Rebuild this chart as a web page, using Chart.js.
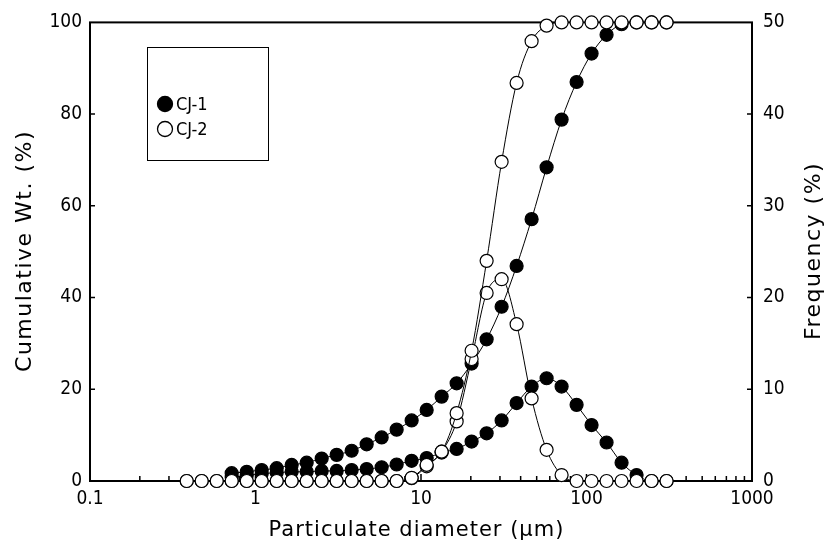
<!DOCTYPE html>
<html>
<head>
<meta charset="utf-8">
<script src="https://cdn.jsdelivr.net/npm/chart.js@4.4.1/dist/chart.umd.min.js"></script>
<style>
html, body { margin: 0; padding: 0; background: #fff; }
</style>
</head>
<body>
<canvas id="psd" width="828" height="552"></canvas>
<script>
// size classes (um)
const diameters = [0.384, 0.473, 0.583, 0.718, 0.885, 1.09, 1.343, 1.654, 2.038, 2.511,
    3.093, 3.811, 4.695, 5.784, 7.126, 8.779, 10.82, 13.33, 16.42, 20.22,
    24.92, 30.7, 37.82, 46.59, 57.4, 70.72, 87.13, 107.3, 132.2, 162.9,
    200.7, 247.3, 304.6];

// cumulative wt. (%) - left axis
const cj1Cumulative = [null, null, null, 1.7, 2.0, 2.4, 2.8, 3.5, 4.0, 4.9,
    5.7, 6.6, 8.0, 9.5, 11.2, 13.2, 15.5, 18.4, 21.3, 25.6,
    30.9, 38.0, 46.9, 57.1, 68.4, 78.8, 87.0, 93.2, 97.3, 99.6,
    100, 100, 100];
const cj2Cumulative = [0, 0, 0, 0, 0, 0, 0, 0, 0, 0,
    0, 0, 0, 0, 0, 0.7, 3.5, 6.4, 14.8, 28.4,
    48.0, 69.6, 86.8, 95.9, 99.3, 100, 100, 100, 100, 100,
    100, 100, 100];

// frequency (%) - right axis
const cj1Frequency = [null, null, null, 0.4, 0.6, 0.8, 0.9, 1.0, 1.0, 1.1,
    1.1, 1.2, 1.3, 1.5, 1.8, 2.2, 2.5, 3.1, 3.5, 4.3,
    5.2, 6.6, 8.5, 10.3, 11.2, 10.3, 8.3, 6.1, 4.2, 2.0,
    0.65, 0, 0];
const cj2Frequency = [0, 0, 0, 0, 0, 0, 0, 0, 0, 0,
    0, 0, 0, 0, 0, 0.3, 1.6, 3.2, 6.5, 13.3,
    20.5, 22.0, 17.1, 9.0, 3.4, 0.65, 0, 0, 0, 0,
    0, 0, 0];

const xTicks = [0.1, 1, 10, 100, 1000];
const seriesNames = ['CJ-1', 'CJ-2'];

const tickFont = { family: "'DejaVu Sans Condensed', 'DejaVu Sans', sans-serif", size: 19 };

function pts(ys) {
    return diameters.map((d, i) => ({ x: d, y: ys[i] }));
}

function series(ys, axis, filled) {
    return {
        data: pts(ys),
        yAxisID: axis,
        borderColor: '#000',
        borderWidth: 1,
        pointRadius: 6.5,
        pointBorderWidth: 1.2,
        pointBorderColor: '#000',
        pointBackgroundColor: filled ? '#000' : '#fff',
        cubicInterpolationMode: 'monotone',
        spanGaps: false,
        clip: false
    };
}

function spacedText(ctx, text, x, y, spacing) {
    ctx.letterSpacing = spacing + 'px';
    const w = ctx.measureText(text).width;
    ctx.textAlign = 'left';
    ctx.fillText(text, x - w / 2 + spacing / 2, y);
    ctx.letterSpacing = '0px';
}

// frame, inward ticks, legend box, axis titles
const decorations = {
    id: 'decorations',
    beforeDatasetsDraw(chart) {
        const { ctx, chartArea: a, scales } = chart;
        ctx.save();
        ctx.strokeStyle = '#000';
        ctx.lineWidth = 1.5;
        ctx.beginPath();
        for (let p = -1; p < 3; p++) {
            for (let m = 1; m <= 9; m++) {
                const px = scales.x.getPixelForValue(m * Math.pow(10, p));
                const len = m === 1 ? 7 : 5;
                ctx.moveTo(px, a.bottom);
                ctx.lineTo(px, a.bottom - len);
            }
        }
        for (let v = 20; v < 100; v += 20) {
            const py = scales.y.getPixelForValue(v);
            ctx.moveTo(a.left, py);
            ctx.lineTo(a.left + 5, py);
        }
        for (let v = 10; v < 50; v += 10) {
            const py = scales.y2.getPixelForValue(v);
            ctx.moveTo(a.right, py);
            ctx.lineTo(a.right - 5, py);
        }
        ctx.stroke();
        ctx.lineWidth = 2;
        ctx.strokeRect(a.left, a.top, a.width, a.height);
        ctx.restore();
    },
    afterDraw(chart) {
        const { ctx, chartArea: a } = chart;
        const midY = (a.top + a.bottom) / 2;
        ctx.save();
        // legend
        ctx.fillStyle = '#fff';
        ctx.fillRect(147, 47, 121, 113);
        ctx.strokeStyle = '#000';
        ctx.lineWidth = 1;
        ctx.strokeRect(147.5, 47.5, 121, 113);
        ctx.font = "18px 'DejaVu Sans Condensed', 'DejaVu Sans', sans-serif";
        ctx.textBaseline = 'middle';
        ctx.textAlign = 'left';
        const rows = [104, 129];
        seriesNames.forEach((name, i) => {
            ctx.beginPath();
            ctx.arc(165, rows[i], 7.5, 0, Math.PI * 2);
            ctx.fillStyle = i === 0 ? '#000' : '#fff';
            ctx.fill();
            ctx.lineWidth = 1.3;
            ctx.stroke();
            ctx.fillStyle = '#000';
            ctx.fillText(name, 176, rows[i] + 1);
        });

        // axis titles
        ctx.fillStyle = '#000';
        ctx.textBaseline = 'middle';
        ctx.font = "21px 'DejaVu Sans', sans-serif";
        spacedText(ctx, 'Particulate diameter (μm)', (a.left + a.right) / 2 - 5, 531, 1);

        ctx.font = "22px 'DejaVu Sans', sans-serif";
        ctx.save();
        ctx.translate(25, midY);
        ctx.rotate(-Math.PI / 2);
        spacedText(ctx, 'Cumulative Wt. (%)', 0, 0, 1.5);
        ctx.restore();

        ctx.save();
        ctx.translate(814, midY);
        ctx.rotate(-Math.PI / 2);
        spacedText(ctx, 'Frequency (%)', 0, 0, 1.5);
        ctx.restore();
        ctx.restore();
    }
};

const config = {
    type: 'line',
    data: {
        datasets: [
            series(cj2Cumulative, 'y', false),
            series(cj2Frequency, 'y2', false),
            series(cj1Cumulative, 'y', true),
            series(cj1Frequency, 'y2', true)
        ]
    },
    options: {
        responsive: false,
        animation: false,
        devicePixelRatio: 1,
        layout: { padding: { top: 20, left: 0, right: 0, bottom: 0 } },
        plugins: {
            legend: { display: false },
            tooltip: { enabled: false }
        },
        scales: {
            x: {
                type: 'logarithmic',
                min: 0.1,
                max: 1000,
                afterBuildTicks: (scale) => { scale.ticks = xTicks.map(v => ({ value: v })); },
                afterFit: (scale) => { scale.height = 71; },
                grid: { display: false, drawTicks: false },
                border: { display: false },
                ticks: {
                    color: '#000',
                    font: tickFont,
                    padding: 7,
                    maxRotation: 0,
                    autoSkip: false,
                    callback: (v) => String(v)
                }
            },
            y: {
                position: 'left',
                min: 0,
                max: 100,
                afterFit: (scale) => { scale.width = 90; },
                grid: { display: false, drawTicks: false },
                border: { display: false },
                ticks: { color: '#000', font: tickFont, stepSize: 20, padding: 8 }
            },
            y2: {
                position: 'right',
                min: 0,
                max: 50,
                afterFit: (scale) => { scale.width = 76; },
                grid: { display: false, drawTicks: false },
                border: { display: false },
                ticks: { color: '#000', font: tickFont, stepSize: 10, padding: 11 }
            }
        }
    },
    plugins: [decorations]
};

const psdChart = new Chart(document.getElementById('psd'), config);
</script>
</body>
</html>
